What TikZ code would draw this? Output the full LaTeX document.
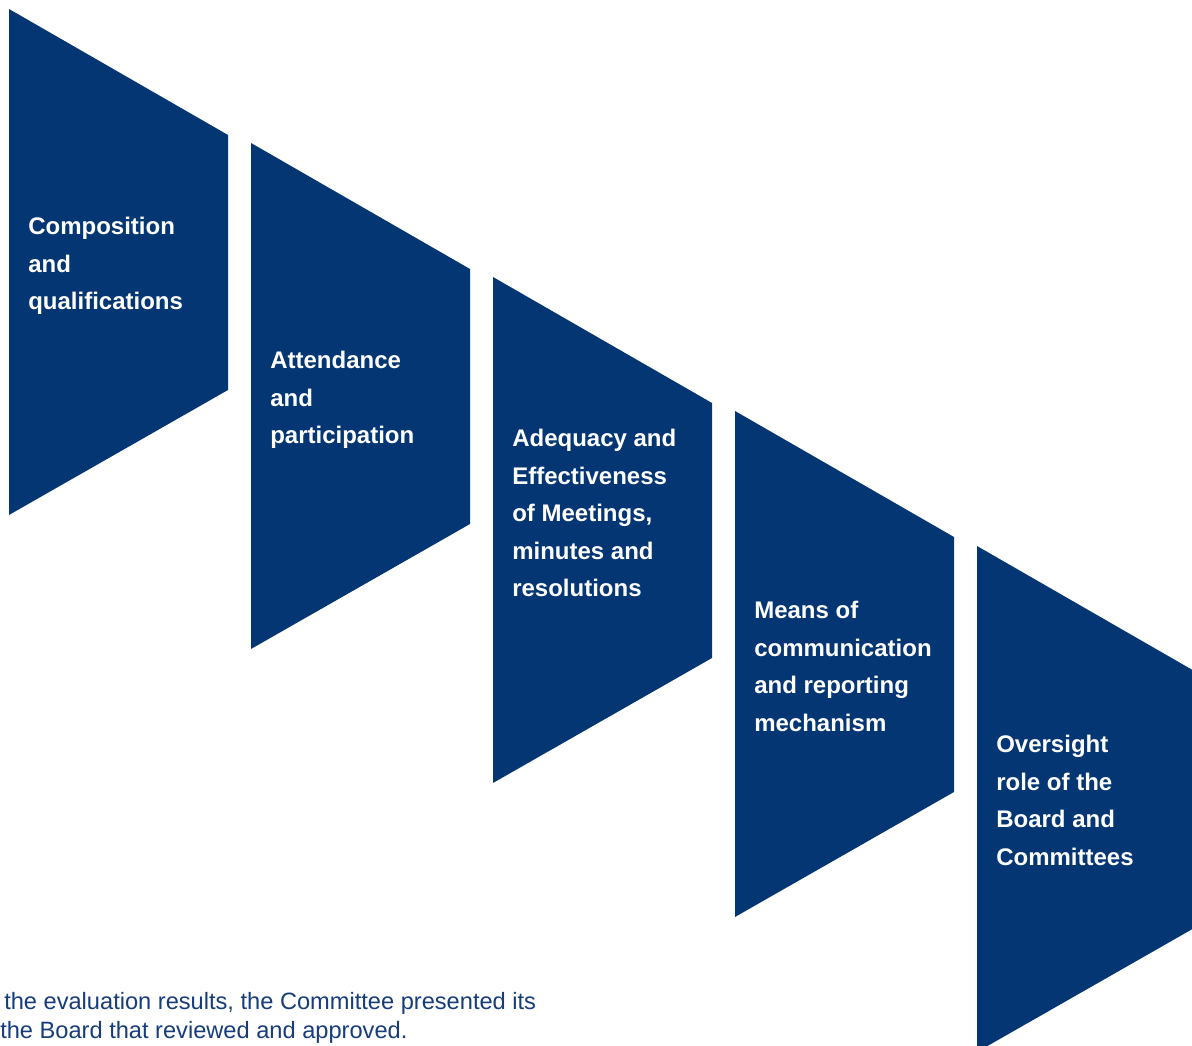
\documentclass[tikz,border=0pt]{standalone}
\usepackage{fontspec}
\setmainfont{Liberation Sans}
\usepackage{xcolor}
\usepackage{tikz}

\definecolor{navy}{RGB}{4,54,115}
\definecolor{noteblue}{RGB}{22,60,122}

\begin{document}
\begin{tikzpicture}[x=0.025cm, y=0.025cm,
		panel/.style={fill=navy},
		paneltext/.style={anchor=north west, inner sep=0pt, align=left, text=white,
			font=\fontsize{17.07}{26.68}\selectfont\bfseries},
		note/.style={anchor=base west, inner sep=0pt, text=noteblue,
			font=\fontsize{16.8}{22.8}\selectfont}]
			\useasboundingbox (0,0) rectangle (1192,1046);
			\clip (0,0) rectangle (1192,1046);
			\fill[panel] (9,1037) -- (228,911) -- (228,656) -- (9,531) -- cycle;
			\fill[panel] (251,903) -- (470,777) -- (470,522) -- (251,397) -- cycle;
			\fill[panel] (493,769) -- (712,643) -- (712,388) -- (493,263) -- cycle;
			\fill[panel] (735,635) -- (954,509) -- (954,254) -- (735,129) -- cycle;
			\fill[panel] (977,500) -- (1196,374) -- (1196,119) -- (977,-6) -- cycle;
			\node[paneltext] (composition) at (28,829) {Composition\\and\\qualifications};
			\node[paneltext] (attendance) at (270,695) {Attendance\\and\\participation};
			\node[paneltext] (adequacy) at (512,617) {Adequacy and\\Effectiveness\\of Meetings,\\minutes and\\resolutions};
			\node[paneltext] (means) at (754,445) {Means of\\communication\\and reporting\\mechanism};
			\node[paneltext] (oversight) at (996,311) {Oversight\\role of the\\Board and\\Committees};
			\node[note] (noteone) at (4,36) {the evaluation results, the Committee presented its};
			\node[note] (notetwo) at (0,7) {the Board that reviewed and approved.};
		\end{tikzpicture}
\end{document}
